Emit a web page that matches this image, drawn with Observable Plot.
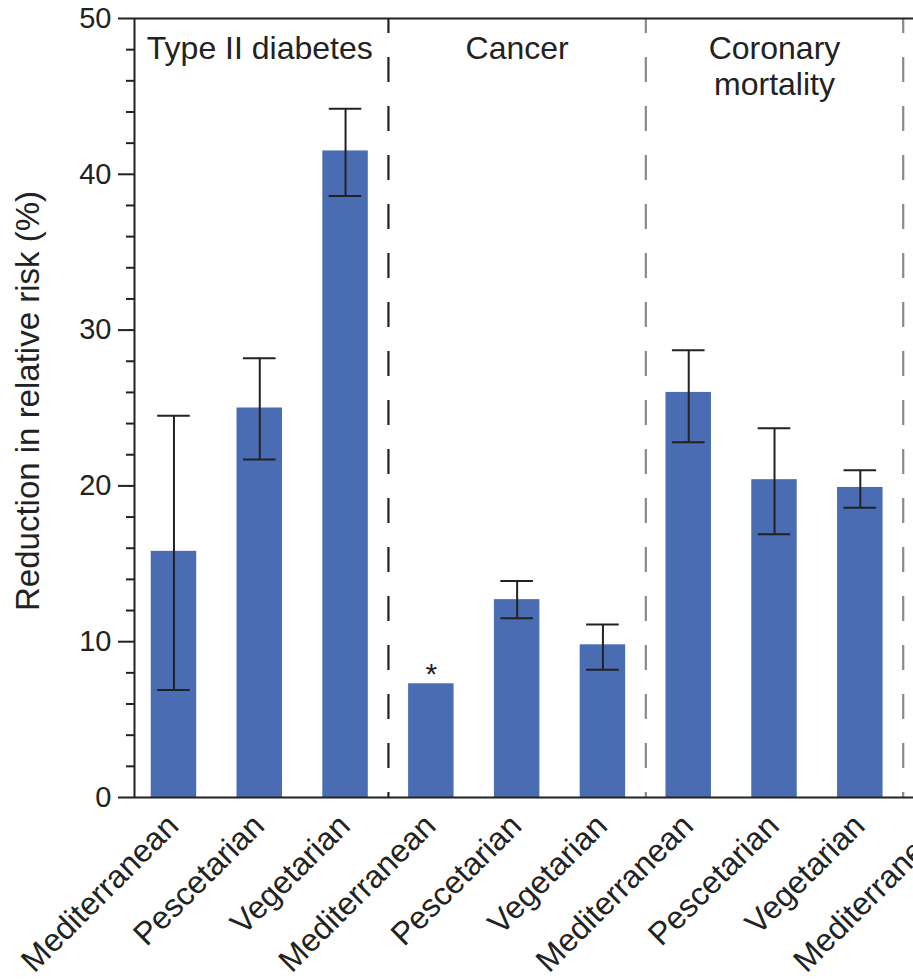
<!DOCTYPE html>
<html>
<head>
<meta charset="utf-8">
<script src="https://cdn.jsdelivr.net/npm/d3@7"></script>
<script src="https://cdn.jsdelivr.net/npm/@observablehq/plot@0.6"></script>
<style>
  html, body { margin: 0; padding: 0; background: #fff; overflow: hidden; }
  #chart { width: 913px; height: 979px; overflow: hidden; }
</style>
</head>
<body>
<div id="chart"></div>
<script>
// Outcome groups and the diet compared within each one
const groups = ["Type II diabetes", "Cancer", "Coronary\nmortality"];
const diets = ["Mediterranean", "Pescetarian", "Vegetarian",
               "Mediterranean", "Pescetarian", "Vegetarian",
               "Mediterranean", "Pescetarian", "Vegetarian",
               "Mediterranean"];
const groupOf = [0, 0, 0, 1, 1, 1, 2, 2, 2, 3];

// Reduction in relative risk (%) with its interval
const reduction = [15.8, 25.0, 41.5, 7.3, 12.7, 9.8, 26.0, 20.4, 19.9];
const ciLow  = [6.9, 21.7, 38.6, null, 11.5, 8.2, 22.8, 16.9, 18.6];
const ciHigh = [24.5, 28.2, 44.2, null, 13.9, 11.1, 28.7, 23.7, 21.0];
const notes  = ["", "", "", "*", "", "", "", "", ""];

const yTicks = [0, 10, 20, 30, 40, 50];
const yMinorTicks = [2, 4, 6, 8, 12, 14, 16, 18, 22, 24, 26, 28, 32, 34, 36, 38, 42, 44, 46, 48];
const yLabel = "Reduction in relative risk (%)";

// Tables built from the arrays above
const bars = reduction.map((v, i) => ({i, diet: diets[i], value: v, lo: ciLow[i], hi: ciHigh[i], note: notes[i]}));
const withCI = bars.filter(d => d.lo != null);
const labels = diets.map((diet, i) => ({i, diet}));
const separators = [];
for (let i = 0; i + 1 < groupOf.length; i++) {
  if (groupOf[i] !== groupOf[i + 1]) separators.push({pos: i + 0.5, first: separators.length === 0});
}
const titles = groups.map((name, g) => {
  const idx = groupOf.map((k, i) => k === g ? i : null).filter(i => i != null);
  return {name, center: d3.mean(idx)};
});

const xDomain = [-0.46, 8.62];
const halfBar = 0.265;
const halfCap = 0.19;
const ink = "#222";

const chart = Plot.plot({
  width: 913,
  height: 979,
  marginTop: 18,
  marginBottom: 182,
  marginLeft: 134,
  marginRight: 0,
  x: {type: "linear", domain: xDomain, axis: null},
  y: {domain: [0, 50], axis: null},
  style: {fontFamily: "'Liberation Sans', Arial, Helvetica, sans-serif", color: ink, background: "#fff", overflow: "visible"},
  marks: [
    // bars
    Plot.rectY(bars, {x1: d => d.i - halfBar, x2: d => d.i + halfBar, y: "value", fill: "#4a6cb3"}),
    // dashed group separators
    Plot.ruleX(separators, {
      x: "pos", y1: 50, y2: 0,
      stroke: d => d.first ? "#222" : "#8a8a8a",
      strokeWidth: 2.2, strokeDasharray: "25,24", strokeDashoffset: 10
    }),
    // frame lines: left axis, baseline and top
    Plot.ruleX([xDomain[0]], {stroke: ink, strokeWidth: 2}),
    Plot.ruleY([0, 50], {stroke: ink, strokeWidth: 2}),
    // y axis ticks
    Plot.axisY({ticks: yTicks, tickSize: 16, tickPadding: 7, fontSize: 29, strokeWidth: 2, label: null}),
    Plot.axisY({ticks: yMinorTicks, tickSize: 8, tickFormat: () => "", strokeWidth: 2, label: null}),
    // y axis title
    Plot.text([yLabel], {frameAnchor: "left", textAnchor: "middle", dx: -106, dy: -7, rotate: -90, fontSize: 33, fill: ink}),
    // error bars
    Plot.ruleX(withCI, {x: "i", y1: "lo", y2: "hi", stroke: ink, strokeWidth: 2}),
    Plot.ruleY(withCI, {y: "lo", x1: d => d.i - halfCap, x2: d => d.i + halfCap, stroke: ink, strokeWidth: 2}),
    Plot.ruleY(withCI, {y: "hi", x1: d => d.i - halfCap, x2: d => d.i + halfCap, stroke: ink, strokeWidth: 2}),
    // significance note
    Plot.text(bars.filter(d => d.note), {x: "i", y: "value", text: "note", dy: -9.5, fontSize: 30, fill: ink}),
    // group titles
    Plot.text(titles, {x: "center", y: 50, text: "name", lineAnchor: "top", dy: 14, fontSize: 32, lineHeight: 1.15, fill: ink}),
    // rotated diet labels
    Plot.text(labels, {x: "i", y: 0, text: "diet", rotate: -45, textAnchor: "end", dx: -1, dy: 23, fontSize: 32, fill: ink})
  ]
});

document.getElementById("chart").appendChild(chart);
</script>
</body>
</html>
